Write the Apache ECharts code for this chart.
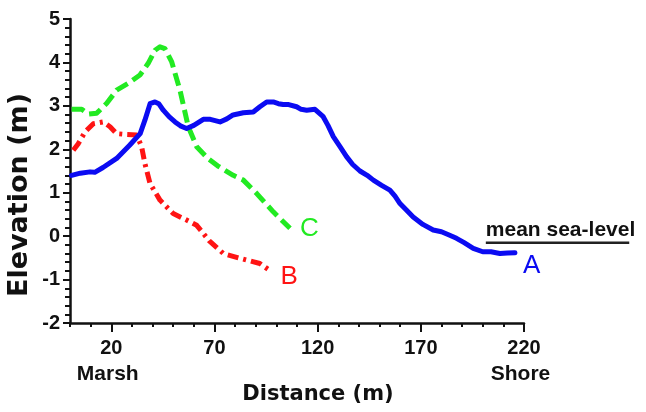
<!DOCTYPE html>
<html>
<head>
<meta charset="utf-8">
<script src="https://cdn.jsdelivr.net/npm/echarts@6/dist/echarts.min.js"></script>
<style>
  html, body { margin: 0; padding: 0; background: #fff; }
  #chart { width: 646px; height: 412px; }
</style>
</head>
<body>
<div id="chart"></div>
<script>
// Transect A (shore profile)
const distA = [0.8, 5, 9.7, 12, 16, 22.6, 29, 34, 36.3, 38.8, 41.2, 43, 45.2, 48, 50.9, 53.5, 56.5, 60, 64.6, 68, 72.7, 76, 79, 84, 88.8, 92, 95.3, 98.5, 101, 103.3, 106, 109.8, 112, 114.7, 118.7, 122.7, 125, 127.6, 131, 134, 137, 140.5, 144, 147, 151, 155, 157.5, 159.9, 163, 166.3, 171, 176, 180, 184, 187.3, 191, 195.4, 200, 204, 208.3, 212, 215.6];
const elevA = [1.40, 1.45, 1.48, 1.47, 1.58, 1.79, 2.10, 2.36, 2.67, 3.05, 3.09, 3.05, 2.90, 2.75, 2.63, 2.54, 2.48, 2.55, 2.69, 2.69, 2.63, 2.70, 2.79, 2.84, 2.86, 2.98, 3.09, 3.09, 3.05, 3.03, 3.03, 2.98, 2.92, 2.90, 2.92, 2.75, 2.55, 2.29, 2.05, 1.83, 1.65, 1.50, 1.40, 1.29, 1.17, 1.06, 0.92, 0.75, 0.60, 0.44, 0.27, 0.14, 0.10, 0.02, -0.05, -0.15, -0.28, -0.36, -0.36, -0.40, -0.39, -0.38];

// Transect B
const distB = [1.6, 4, 7.3, 11.3, 16.1, 19.4, 22.6, 27.5, 32.3, 34.7, 36.3, 38.8, 43.6, 50, 56.5, 61.4, 64, 67.5, 74.3, 82.4, 92, 97.7];
const elevB = [1.98, 2.13, 2.40, 2.59, 2.63, 2.52, 2.36, 2.34, 2.33, 2.06, 1.67, 1.21, 0.83, 0.52, 0.37, 0.25, 0.10, -0.11, -0.40, -0.51, -0.63, -0.82];

// Transect C
const distC = [0.8, 5.7, 8.9, 12.9, 17.8, 22.6, 28.2, 33.9, 37.9, 41.2, 43.6, 46, 49.3, 53.3, 57.3, 61.4, 67, 71.5, 79.1, 84, 90.5, 98.5, 106.6];
const elevC = [2.92, 2.92, 2.81, 2.83, 3.06, 3.36, 3.52, 3.71, 3.98, 4.28, 4.36, 4.32, 4.01, 3.36, 2.52, 2.06, 1.78, 1.62, 1.40, 1.29, 0.98, 0.56, 0.18];

const seriesNames = ['A', 'B', 'C'];
const xTickValues = [20, 70, 120, 170, 220];
const xEndNames = { 20: 'Marsh', 220: 'Shore' };
const seaLevel = -0.155;
const seaLineFrom = 201.5;
const seaLineTo = 271;
const seaLabel = 'mean sea-level';
const xTitle = 'Distance (m)';
const yTitle = 'Elevation (m)';

const pair = (xs, ys) => xs.map((x, i) => [x, ys[i]]);

const FONT = '"Liberation Sans", Arial, sans-serif';
const TITLE_FONT = '"DejaVu Sans", Verdana, sans-serif';

const chart = echarts.init(document.getElementById('chart'), null, { renderer: 'canvas' });

const axisLine = { show: true, onZero: false, lineStyle: { color: '#111', width: 2.5 } };

const endLabel = (text, color, offset) => ({
  show: true,
  formatter: text,
  color: color,
  fontFamily: FONT,
  fontSize: 26,
  fontWeight: 'normal',
  offset: offset
});

chart.setOption({
  animation: false,
  backgroundColor: '#fff',
  grid: { left: 70, right: 122, top: 19, bottom: 89, containLabel: false },
  xAxis: [
    {
      type: 'value', min: 0, max: 220, interval: 10,
      axisLine: axisLine,
      axisTick: { show: true, length: 4, lineStyle: { color: '#111', width: 2 } },
      axisLabel: { show: false },
      splitLine: { show: false }
    },
    {
      type: 'value', min: 0, max: 220, position: 'bottom',
      axisLine: { show: false, onZero: false },
      axisTick: { show: true, length: 9, customValues: xTickValues, lineStyle: { color: '#111', width: 2 } },
      axisLabel: {
        show: true, margin: 12, customValues: xTickValues,
        formatter: v => xEndNames[v] ? '{v|' + v + '}\n{m|' + xEndNames[v] + '}' : '{v|' + v + '}',
        rich: {
          v: { fontFamily: FONT, fontSize: 20, fontWeight: 'bold', color: '#111', lineHeight: 26 },
          m: { fontFamily: FONT, fontSize: 21, fontWeight: 'bold', color: '#111', lineHeight: 26, padding: [0, 7, 0, 0] }
        }
      },
      splitLine: { show: false }
    }
  ],
  yAxis: {
    type: 'value', min: -2, max: 5, interval: 1,
    axisLine: axisLine,
    axisTick: { show: true, length: 7, lineStyle: { color: '#111', width: 2 } },
    minorTick: { show: true, splitNumber: 5, length: 5, lineStyle: { color: '#111', width: 2 } },
    axisLabel: { margin: 10, fontFamily: FONT, fontSize: 20, fontWeight: 'bold', color: '#111' },
    splitLine: { show: false }
  },
  series: [
    {
      name: seriesNames[0], type: 'line', data: pair(distA, elevA), showSymbol: false, symbol: 'none',
      lineStyle: { color: '#0b0bf2', width: 5, type: 'solid', cap: 'round', join: 'round' },
      endLabel: endLabel(seriesNames[0], '#0b0bf2', [0, 13]), z: 3
    },
    {
      name: seriesNames[1], type: 'line', data: pair(distB, elevB), showSymbol: false, symbol: 'none',
      lineStyle: { color: '#ff1414', width: 5, type: [11, 5, 3, 5], join: 'round' },
      endLabel: endLabel(seriesNames[1], '#ff1414', [1, 5]), z: 2
    },
    {
      name: seriesNames[2], type: 'line', data: pair(distC, elevC), showSymbol: false, symbol: 'none',
      lineStyle: { color: '#22ea22', width: 5, type: [13, 6], join: 'round' },
      endLabel: endLabel(seriesNames[2], '#22ea22', [2, 1]), z: 2
    }
  ]
});

// Sea-level reference line and the axis titles
const p0 = chart.convertToPixel({ xAxisIndex: 0, yAxisIndex: 0 }, [seaLineFrom, seaLevel]);
const p1 = chart.convertToPixel({ xAxisIndex: 0, yAxisIndex: 0 }, [seaLineTo, seaLevel]);

chart.setOption({
  graphic: [
    {
      type: 'line', silent: true,
      shape: { x1: p0[0], y1: p0[1], x2: p1[0], y2: p1[1] },
      style: { stroke: '#222', lineWidth: 2.5 }
    },
    {
      type: 'text', silent: true, x: p0[0], y: p0[1] - 13,
      style: { text: seaLabel, fontFamily: FONT, fontSize: 21, fontWeight: 'bold', fill: '#111', align: 'left', verticalAlign: 'middle' }
    },
    {
      type: 'text', silent: true, x: 318, y: 395,
      style: { text: xTitle, fontFamily: TITLE_FONT, fontSize: 21, fontWeight: 'bold', fill: '#111', align: 'center', verticalAlign: 'middle' }
    },
    {
      type: 'text', silent: true, x: 20, y: 195, rotation: Math.PI / 2,
      style: { text: yTitle, fontFamily: TITLE_FONT, fontSize: 27, fontWeight: 'bold', fill: '#111', align: 'center', verticalAlign: 'middle' }
    }
  ]
});
</script>
</body>
</html>
